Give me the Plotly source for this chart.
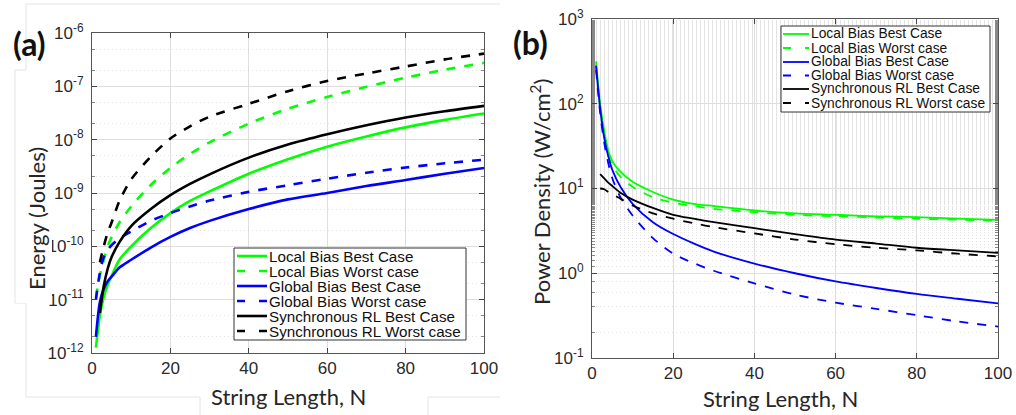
import plotly.graph_objects as go

# String length N (shared by both panels); Synchronous RL starts at N=2
N = [1, 2, 3, 4, 5, 7, 10, 15, 20, 25, 30, 40, 50, 60, 70, 80, 90, 100]

# (a) Energy (Joules)
energy_local_best = [1.26e-12, 5.0e-12, 1.12e-11, 1.9e-11, 2.8e-11, 5.6e-11, 1.0e-10, 2.2e-10, 4.2e-10,
                     7.1e-10, 1.07e-9, 2.3e-9, 4.3e-9, 7.4e-9, 1.15e-8, 1.7e-8, 2.35e-8, 3.1e-8]
energy_local_worst = [1.1e-11, 2.8e-11, 5.6e-11, 1.0e-10, 1.5e-10, 2.8e-10, 5.6e-10, 1.41e-9, 2.95e-9,
                      5.4e-9, 8.9e-9, 2.0e-8, 3.8e-8, 6.3e-8, 9.8e-8, 1.45e-7, 2.05e-7, 2.75e-7]
energy_global_best = [2.0e-12, 8.9e-12, 1.6e-11, 2.2e-11, 2.7e-11, 4.0e-11, 5.6e-11, 9.5e-11, 1.5e-10,
                      2.2e-10, 3.0e-10, 5.0e-10, 7.6e-10, 1.0e-9, 1.35e-9, 1.75e-9, 2.3e-9, 2.95e-9]
energy_global_worst = [1.0e-11, 3.2e-11, 6.3e-11, 8.5e-11, 1.05e-10, 1.4e-10, 1.9e-10, 3.0e-10, 4.2e-10,
                       5.6e-10, 7.2e-10, 1.05e-9, 1.4e-9, 1.85e-9, 2.4e-9, 3.0e-9, 3.6e-9, 4.2e-9]
energy_sync_best = [None, 5.6e-12, 1.8e-11, 3.8e-11, 6.3e-11, 1.2e-10, 2.4e-10, 5.0e-10, 9.1e-10,
                    1.48e-9, 2.24e-9, 4.6e-9, 8.1e-9, 1.26e-8, 1.86e-8, 2.6e-8, 3.4e-8, 4.3e-8]
energy_sync_worst = [None, 5.0e-11, 1.0e-10, 1.8e-10, 2.8e-10, 7.1e-10, 1.8e-9, 4.8e-9, 1.05e-8,
                     1.78e-8, 2.7e-8, 4.7e-8, 8.1e-8, 1.26e-7, 1.74e-7, 2.35e-7, 3.2e-7, 4.1e-7]

# (b) Power density (W/cm^2)
power_local_best = [316, 100, 48, 28, 21, 15.8, 12.0, 9.1, 7.4, 6.6, 6.2, 5.5, 5.1, 4.9, 4.7, 4.6, 4.4, 4.27]
power_local_worst = [282, 89, 42, 25, 18.6, 13.8, 10.5, 7.9, 6.8, 6.2, 5.75, 5.25, 4.9, 4.7, 4.55, 4.4, 4.3, 4.15]
power_global_best = [282, 89, 40, 24, 16.6, 10.5, 6.6, 4.0, 2.9, 2.25, 1.8, 1.3, 1.0, 0.8, 0.67, 0.57, 0.5, 0.44]
power_global_worst = [251, 79, 35, 20, 13.2, 7.9, 4.8, 2.6, 1.7, 1.32, 1.07, 0.76, 0.56, 0.45, 0.38, 0.32, 0.27, 0.235]
power_sync_best = [None, 14.8, 13.2, 11.7, 10.7, 8.9, 7.4, 5.9, 4.9, 4.4, 4.0, 3.4, 2.9, 2.5, 2.24, 2.0, 1.86, 1.74]
power_sync_worst = [None, 10.0, 9.8, 9.1, 8.5, 7.6, 6.3, 5.1, 4.4, 3.9, 3.5, 2.95, 2.5, 2.2, 2.0, 1.86, 1.7, 1.58]

names = ["Local Bias Best Case", "Local Bias Worst case", "Global Bias Best Case",
         "Global Bias Worst case", "Synchronous RL Best Case", "Synchronous RL Worst case"]
colors = ["#00ff00", "#00ff00", "#0000ff", "#0000ff", "#000000", "#000000"]
dashes = ["solid", "dash", "solid", "dash", "solid", "dash"]

energy = [energy_local_best, energy_local_worst, energy_global_best,
          energy_global_worst, energy_sync_best, energy_sync_worst]
power = [power_local_best, power_local_worst, power_global_best,
         power_global_worst, power_sync_best, power_sync_worst]

W, H = 1016, 415
ARIAL = "Liberation Sans, Arial"
TICKFONT = dict(family=ARIAL, size=17, color="#2a2a2a")


def px_x(p):
    return p / W


def px_y(p):
    return 1 - p / H


fig = go.Figure()

for i in range(6):
    fig.add_trace(go.Scatter(
        x=N, y=energy[i], name=names[i], mode="lines", line_shape="spline",
        line=dict(color=colors[i], dash=dashes[i], width=2.6, smoothing=0.8),
        xaxis="x", yaxis="y", showlegend=False))
for i in range(6):
    fig.add_trace(go.Scatter(
        x=N, y=power[i], name=names[i], mode="lines", line_shape="spline",
        line=dict(color=colors[i], dash=dashes[i], width=1.8, smoothing=0.8),
        xaxis="x2", yaxis="y2", showlegend=False))

xaxis_common = dict(
    range=[0, 100], tickvals=[0, 20, 40, 60, 80, 100], ticks="inside", ticklen=5,
    showline=True, linecolor="#555", linewidth=1, mirror="ticks", automargin=False,
    showgrid=True, gridcolor="#dedede", gridwidth=1, zeroline=False,
    tickfont=TICKFONT, ticklabelstandoff=0,
)

yaxis_common = dict(
    type="log", ticks="inside", ticklen=5,
    showline=True, linecolor="#555", linewidth=1, mirror="ticks", automargin=False,
    showgrid=True, gridcolor="#dedede", gridwidth=1, zeroline=False,
    tickfont=TICKFONT, ticklabelstandoff=4,
    minor=dict(showgrid=True, gridcolor="#e3e3e3", griddash="1px,3px", gridwidth=1,
               ticks="inside", ticklen=3, tickcolor="#888"),
)

e_ticks = [1e-12, 1e-11, 1e-10, 1e-9, 1e-8, 1e-7, 1e-6]
e_text = ["10<sup>-%d</sup>" % k for k in [12, 11, 10, 9, 8, 7, 6]]
p_ticks = [0.1, 1, 10, 100, 1000]
p_text = ["10<sup>-1</sup>", "10<sup>0</sup>", "10<sup>1</sup>", "10<sup>2</sup>", "10<sup>3</sup>"]

fig.update_layout(
    width=W, height=H,
    margin=dict(l=0, r=0, t=0, b=0, autoexpand=False),
    paper_bgcolor="white", plot_bgcolor="white",
    font=dict(family=ARIAL, color="#262626"),
    showlegend=False,
    xaxis=dict(xaxis_common, domain=[px_x(92), px_x(484)], anchor="y"),
    yaxis=dict(yaxis_common, domain=[px_y(353), px_y(33)], anchor="x",
               range=[-12, -6], tickvals=e_ticks, ticktext=e_text),
    xaxis2=dict(xaxis_common, domain=[px_x(592), px_x(998)], anchor="y2"),
    yaxis2=dict(yaxis_common, domain=[px_y(358), px_y(19)], anchor="x2",
                range=[-1, 3], tickvals=p_ticks, ticktext=p_text),
)

# faint crop outlines of the original figure
outline = [(26, 4, 500, 4), (26, 4, 26, 70), (15, 70, 26, 70), (15, 70, 15, 303),
           (15, 303, 26, 303), (26, 303, 26, 397), (26, 397, 200, 397), (200, 397, 200, 415),
           (428, 397, 500, 397), (428, 397, 428, 415)]
for x0, y0, x1, y1 in outline:
    fig.add_shape(type="line", xref="paper", yref="paper", layer="above",
                  x0=px_x(x0), y0=px_y(y0), x1=px_x(x1), y1=px_y(y1),
                  line=dict(color="#e4e4e4", width=1))

# white patch of the cropped y-title box, which hides the left edge of two tick labels
fig.add_annotation(text=" ", x=px_x(34), y=px_y(186.5), xref="paper", yref="paper",
                   xanchor="center", yanchor="middle", showarrow=False,
                   width=36, height=232, bgcolor="white", borderpad=0, borderwidth=0)


def add_legend(box, sample_x, rows, font_size, line_width):
    x0, y0, x1, y1 = box
    fig.add_shape(type="rect", xref="paper", yref="paper", layer="above",
                  x0=px_x(x0), x1=px_x(x1), y0=px_y(y1), y1=px_y(y0),
                  fillcolor="white", line=dict(color="#333", width=1))
    for i, yc in enumerate(rows):
        dash = "solid" if dashes[i] == "solid" else "8px,14px"
        fig.add_shape(type="line", xref="paper", yref="paper", layer="above",
                      x0=px_x(sample_x[0]), x1=px_x(sample_x[1]), y0=px_y(yc), y1=px_y(yc),
                      line=dict(color=colors[i], width=line_width, dash=dash))
        fig.add_annotation(text=names[i], x=px_x(sample_x[1] + 1), y=px_y(yc),
                           xref="paper", yref="paper", xanchor="left", yanchor="middle",
                           showarrow=False, borderpad=0,
                           font=dict(family=ARIAL, size=font_size, color="#111"))


add_legend((234, 248, 466, 340), (237, 267), [256, 271, 286, 301, 316, 331], 15.2, 2.6)
add_legend((781, 26, 990, 112), (783, 809), [34, 48, 62, 75.5, 89, 103], 13.8, 1.8)


def label(text, x, y, size=22, angle=0, bold=False, color="#262626"):
    fig.add_annotation(text="<b>%s</b>" % text if bold else text, x=px_x(x), y=px_y(y),
                       xref="paper", yref="paper", xanchor="center", yanchor="middle",
                       showarrow=False, textangle=angle, borderpad=0,
                       font=dict(family="Lato, Open Sans", size=size, color=color))


label("String Length, N", 288, 396)
label("String Length, N", 780, 398)
label("Energy (Joules)", 36, 219, angle=-90)
label("Power Density (W/cm<sup>2</sup>)", 540, 192, angle=-90)
label("(a)", 29, 44, size=32, bold=True, color="#111")
label("(b)", 530, 43, size=32, bold=True, color="#111")

# drop the browser's default 8px body margin so the figure sits at the page origin
fig.write_html("out.html", config={"displayModeBar": False},
               post_script="document.body.style.margin='0';")
